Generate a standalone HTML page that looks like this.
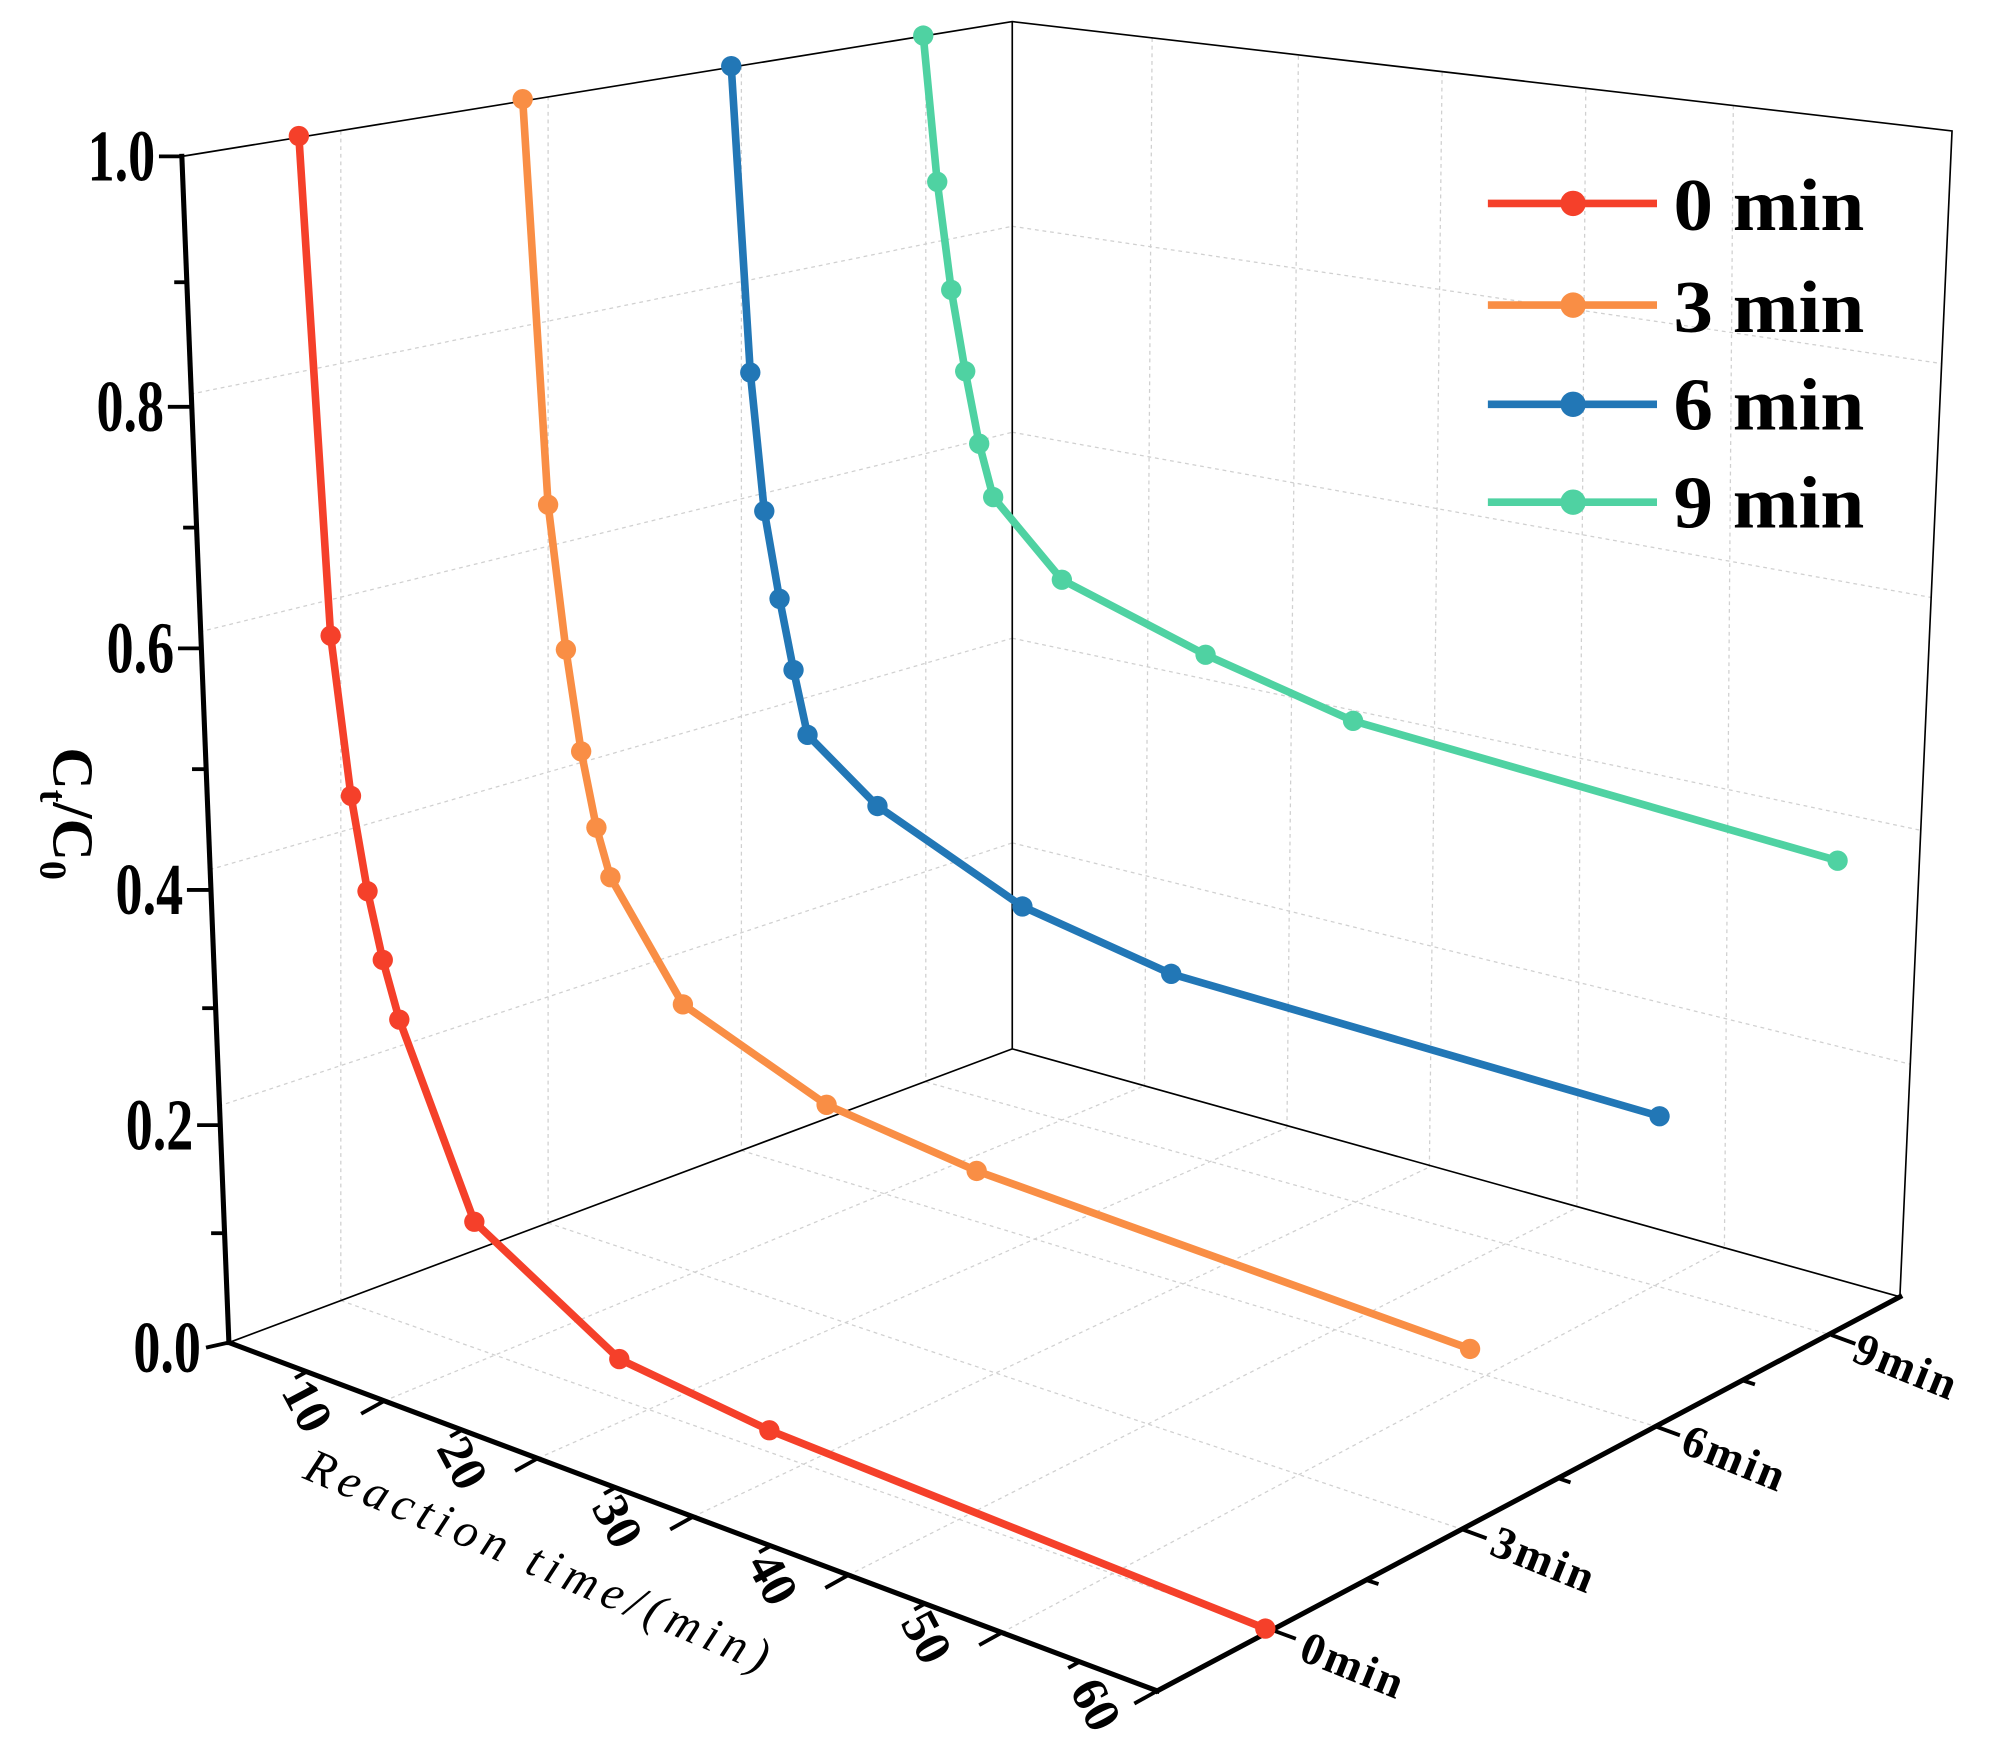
<!DOCTYPE html>
<html><head><meta charset="utf-8"><style>
html,body{margin:0;padding:0;background:#fff}
svg{display:block}
text{font-family:"Liberation Serif",serif}
</style></head><body>
<svg width="1994" height="1757" viewBox="0 0 1568 1382" preserveAspectRatio="none" xmlns="http://www.w3.org/2000/svg">
<rect width="1568" height="1382" fill="#fff"/>
<g stroke="#d0d0d0" stroke-width="1" stroke-dasharray="3,3" fill="none">
<line x1="150" y1="310" x2="796" y2="178"/>
<line x1="157" y1="497" x2="796" y2="340"/>
<line x1="165" y1="684" x2="796" y2="502"/>
<line x1="172" y1="870" x2="796" y2="663"/>
<line x1="268" y1="103" x2="268" y2="1023"/>
<line x1="431" y1="76" x2="431" y2="962"/>
<line x1="583" y1="52" x2="583" y2="905"/>
<line x1="728" y1="28" x2="728" y2="851"/>
<line x1="796" y1="178" x2="1527" y2="286"/>
<line x1="796" y1="340" x2="1519" y2="470"/>
<line x1="796" y1="502" x2="1510" y2="653"/>
<line x1="796" y1="663" x2="1502" y2="837"/>
<line x1="906" y1="30" x2="900" y2="854"/>
<line x1="1021" y1="44" x2="1012" y2="887"/>
<line x1="1134" y1="57" x2="1124" y2="918"/>
<line x1="1247" y1="70" x2="1240" y2="950"/>
<line x1="1363" y1="83" x2="1356" y2="982"/>
<line x1="268" y1="1023" x2="1000" y2="1282"/>
<line x1="431" y1="962" x2="1150" y2="1203"/>
<line x1="583" y1="905" x2="1302" y2="1122"/>
<line x1="728" y1="851" x2="1440" y2="1050"/>
<line x1="302" y1="1102" x2="900" y2="854"/>
<line x1="423" y1="1147" x2="1012" y2="887"/>
<line x1="545" y1="1193" x2="1124" y2="918"/>
<line x1="667" y1="1239" x2="1240" y2="950"/>
<line x1="788" y1="1284" x2="1356" y2="982"/>
</g>
<g stroke="#000" stroke-width="1.3" fill="none">
<polyline points="143,123 796,17 1535,103 1494,1020"/>
<line x1="796" y1="17" x2="796" y2="825"/>
<line x1="180" y1="1056" x2="796" y2="825"/>
<line x1="796" y1="825" x2="1494" y2="1020"/>
</g>
<g stroke="#000" stroke-width="4" fill="none" stroke-linecap="square">
<line x1="143" y1="123" x2="180" y2="1056"/>
<line x1="180" y1="1056" x2="910" y2="1330"/>
<line x1="910" y1="1330" x2="1494" y2="1020"/>
</g>
<g stroke="#000" stroke-width="3">
<line x1="143" y1="123" x2="125" y2="123"/>
<line x1="150" y1="320" x2="132" y2="320"/>
<line x1="158" y1="510" x2="140" y2="510"/>
<line x1="165" y1="700" x2="147" y2="700"/>
<line x1="173" y1="885" x2="155" y2="885"/>
<line x1="180" y1="1056" x2="162" y2="1060"/>
<line x1="147" y1="222" x2="137" y2="222"/>
<line x1="154" y1="415" x2="144" y2="415"/>
<line x1="161" y1="605" x2="151" y2="605"/>
<line x1="169" y1="793" x2="159" y2="793"/>
<line x1="176" y1="970" x2="166" y2="970"/>
</g>
<g font-weight="bold" font-size="50" text-anchor="end">
<text x="122" y="142" transform="translate(122,142) scale(0.85,1.15) translate(-122,-142)">1.0</text>
<text x="129" y="339" transform="translate(129,339) scale(0.85,1.15) translate(-129,-339)">0.8</text>
<text x="137" y="529" transform="translate(137,529) scale(0.85,1.15) translate(-137,-529)">0.6</text>
<text x="144" y="719" transform="translate(144,719) scale(0.85,1.15) translate(-144,-719)">0.4</text>
<text x="152" y="904" transform="translate(152,904) scale(0.85,1.15) translate(-152,-904)">0.2</text>
<text x="158" y="1079" transform="translate(158,1079) scale(0.85,1.15) translate(-158,-1079)">0.0</text>
</g>
<text transform="translate(42,640) rotate(90)" font-size="46" font-weight="bold" text-anchor="middle">C<tspan font-size="30" dy="10">t</tspan><tspan dy="-10">/C</tspan><tspan font-size="30" dy="10">0</tspan></text>
<g stroke="#000" stroke-width="3">
<line x1="241" y1="1079" x2="232" y2="1084"/>
<line x1="302" y1="1102" x2="284" y2="1112"/>
<line x1="363" y1="1125" x2="354" y2="1130"/>
<line x1="423" y1="1147" x2="405" y2="1157"/>
<line x1="484" y1="1170" x2="475" y2="1175"/>
<line x1="545" y1="1193" x2="527" y2="1203"/>
<line x1="606" y1="1216" x2="597" y2="1221"/>
<line x1="667" y1="1239" x2="649" y2="1249"/>
<line x1="728" y1="1261" x2="719" y2="1266"/>
<line x1="788" y1="1284" x2="770" y2="1294"/>
<line x1="849" y1="1307" x2="840" y2="1312"/>
<line x1="910" y1="1330" x2="892" y2="1340"/>
</g>
<g font-size="40" font-weight="bold" text-anchor="middle">
<text transform="translate(230,1112) rotate(62)">10</text>
<text transform="translate(352,1157) rotate(62)">20</text>
<text transform="translate(474,1203) rotate(62)">30</text>
<text transform="translate(596,1248) rotate(62)">40</text>
<text transform="translate(717,1294) rotate(62)">50</text>
<text transform="translate(850,1347) rotate(62)">60</text>
</g>
<text transform="translate(420,1240) rotate(23)" font-size="38" font-style="italic" text-anchor="middle" letter-spacing="5">Reaction time/(min)</text>
<g stroke="#000" stroke-width="3">
<line x1="1000" y1="1282" x2="1019" y2="1289"/>
<line x1="1075" y1="1243" x2="1084" y2="1246"/>
<line x1="1150" y1="1203" x2="1169" y2="1210"/>
<line x1="1226" y1="1163" x2="1235" y2="1166"/>
<line x1="1302" y1="1122" x2="1321" y2="1129"/>
<line x1="1371" y1="1086" x2="1380" y2="1089"/>
<line x1="1440" y1="1050" x2="1459" y2="1057"/>
</g>
<g font-size="36" font-weight="bold" letter-spacing="2">
<text transform="translate(1020,1305) rotate(22)">0min</text>
<text transform="translate(1170,1222) rotate(22)">3min</text>
<text transform="translate(1320,1142) rotate(22)">6min</text>
<text transform="translate(1455,1070) rotate(22)">9min</text>
</g>
<g fill="none" stroke-width="6" stroke-linejoin="round">
<polyline stroke="#f5402a" points="235,107 260,500 276,626 289,701 301,755 314,802 373,961 487,1069 605,1125 995,1281"/>
<polyline stroke="#f98e45" points="411,78 431,397 445,511 457,591 469,651 480,690 537,790 650,869 768,921 1156,1061"/>
<polyline stroke="#2277b6" points="575,52 590,293 601,402 613,471 624,527 635,578 690,634 804,713 921,766 1305,878"/>
<polyline stroke="#4fd2a2" points="726,28 737,143 748,228 759,292 770,349 781,391 835,456 948,515 1064,567 1445,677"/>
</g>
<g fill="#f5402a"><circle cx="235" cy="107" r="8"/><circle cx="260" cy="500" r="8"/><circle cx="276" cy="626" r="8"/><circle cx="289" cy="701" r="8"/><circle cx="301" cy="755" r="8"/><circle cx="314" cy="802" r="8"/><circle cx="373" cy="961" r="8"/><circle cx="487" cy="1069" r="8"/><circle cx="605" cy="1125" r="8"/><circle cx="995" cy="1281" r="8"/></g>
<g fill="#f98e45"><circle cx="411" cy="78" r="8"/><circle cx="431" cy="397" r="8"/><circle cx="445" cy="511" r="8"/><circle cx="457" cy="591" r="8"/><circle cx="469" cy="651" r="8"/><circle cx="480" cy="690" r="8"/><circle cx="537" cy="790" r="8"/><circle cx="650" cy="869" r="8"/><circle cx="768" cy="921" r="8"/><circle cx="1156" cy="1061" r="8"/></g>
<g fill="#2277b6"><circle cx="575" cy="52" r="8"/><circle cx="590" cy="293" r="8"/><circle cx="601" cy="402" r="8"/><circle cx="613" cy="471" r="8"/><circle cx="624" cy="527" r="8"/><circle cx="635" cy="578" r="8"/><circle cx="690" cy="634" r="8"/><circle cx="804" cy="713" r="8"/><circle cx="921" cy="766" r="8"/><circle cx="1305" cy="878" r="8"/></g>
<g fill="#4fd2a2"><circle cx="726" cy="28" r="8"/><circle cx="737" cy="143" r="8"/><circle cx="748" cy="228" r="8"/><circle cx="759" cy="292" r="8"/><circle cx="770" cy="349" r="8"/><circle cx="781" cy="391" r="8"/><circle cx="835" cy="456" r="8"/><circle cx="948" cy="515" r="8"/><circle cx="1064" cy="567" r="8"/><circle cx="1445" cy="677" r="8"/></g>
<g stroke-width="6">
<line x1="1170" y1="160" x2="1303" y2="160" stroke="#f5402a"/>
<line x1="1170" y1="240" x2="1303" y2="240" stroke="#f98e45"/>
<line x1="1170" y1="318" x2="1303" y2="318" stroke="#2277b6"/>
<line x1="1170" y1="395" x2="1303" y2="395" stroke="#4fd2a2"/>
</g>
<circle cx="1237" cy="160" r="10" fill="#f5402a"/>
<circle cx="1237" cy="240" r="10" fill="#f98e45"/>
<circle cx="1237" cy="318" r="10" fill="#2277b6"/>
<circle cx="1237" cy="395" r="10" fill="#4fd2a2"/>
<g font-size="58" font-weight="bold">
<text x="1316" y="181" textLength="150" lengthAdjust="spacingAndGlyphs">0 min</text>
<text x="1316" y="261" textLength="150" lengthAdjust="spacingAndGlyphs">3 min</text>
<text x="1316" y="338" textLength="150" lengthAdjust="spacingAndGlyphs">6 min</text>
<text x="1316" y="415" textLength="150" lengthAdjust="spacingAndGlyphs">9 min</text>
</g>
</svg>
</body></html>
